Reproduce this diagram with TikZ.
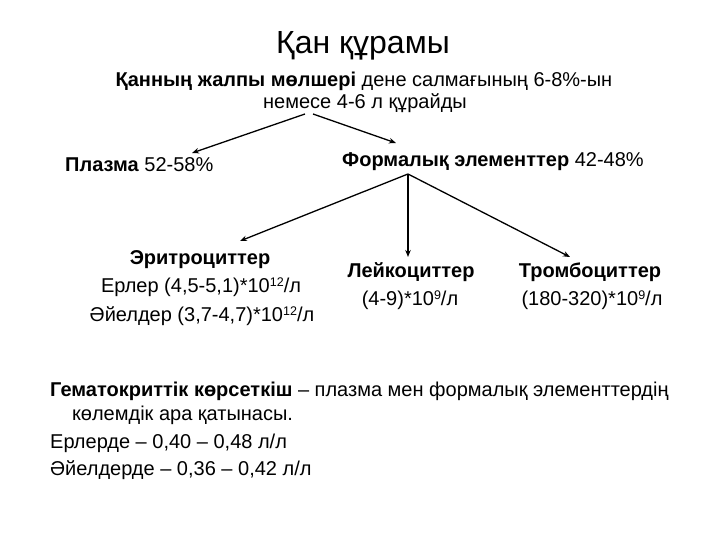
\documentclass[tikz,border=0pt]{standalone}
\usepackage{fontspec}
\setmainfont{Liberation Sans}
\usetikzlibrary{arrows.meta}
\newcommand\mysup[1]{\raisebox{5.5pt}{\fontsize{12.5}{12.5}\selectfont #1}}
\begin{document}
\begin{tikzpicture}[x=1pt,y=-1pt,
  txt/.style={inner sep=0pt,font=\fontsize{20}{24}\selectfont},
  ttl/.style={inner sep=0pt,font=\fontsize{32}{36}\selectfont},
  arr/.style={line width=1.3pt,-{Stealth[length=7pt,width=5.5pt]}},
  ln/.style={line width=1.3pt}]
\useasboundingbox[fill=white] (0,0) rectangle (720,540);
\node[ttl,anchor=base] (title) at (363,54) {Қан құрамы};
\node[txt,anchor=base] (l1) at (364,87) {\textbf{Қанның жалпы мөлшері} дене салмағының 6-8\%-ын};
\node[txt,anchor=base] (l2) at (365,109) {немесе 4-6 л құрайды};
\node[txt,anchor=base west] (plasma) at (65,172) {\textbf{Плазма} 52-58\%};
\node[txt,anchor=base west] (form) at (342,167) {\textbf{Формалық элементтер} 42-48\%};
\node[txt,anchor=base] (eryth) at (200,264) {\textbf{Эритроциттер}};
\node[txt,anchor=base] (er1) at (201,292) {Ерлер (4,5-5,1)*10\mysup{12}/л};
\node[txt,anchor=base] (er2) at (202,321) {Әйелдер (3,7-4,7)*10\mysup{12}/л};
\node[txt,anchor=base] (leuk) at (411,277) {\textbf{Лейкоциттер}};
\node[txt,anchor=base] (leuk2) at (410,305) {(4-9)*10\mysup{9}/л};
\node[txt,anchor=base] (thromb) at (590,277) {\textbf{Тромбоциттер}};
\node[txt,anchor=base] (thromb2) at (592,305) {(180-320)*10\mysup{9}/л};
\node[txt,anchor=base west] (hem1) at (50,396) {\textbf{Гематокриттік көрсеткіш} – плазма мен формалық элементтердің};
\node[txt,anchor=base west] (hem2) at (72,420) {көлемдік ара қатынасы.};
\node[txt,anchor=base west] (hem3) at (50,448) {Ерлерде – 0,40 – 0,48 л/л};
\node[txt,anchor=base west] (hem4) at (50,475) {Әйелдерде – 0,36 – 0,42 л/л};
% connector end points
\coordinate (sL) at (305,114);
\coordinate (sR) at (313,114);
\coordinate (ePl) at (192,153);
\coordinate (eFo) at (396,143);
\coordinate (apex) at (408,174);
\coordinate (eEr) at (240,241);
\coordinate (eLe) at (408,257);
\coordinate (eTh) at (570,257);
\draw[arr] (sL) -- (ePl);
\draw[arr] (sR) -- (eFo);
\draw[arr] (apex) -- (eEr);
\draw[arr] (apex) -- (eLe);
\draw[arr] (apex) -- (eTh);
\end{tikzpicture}
\end{document}
